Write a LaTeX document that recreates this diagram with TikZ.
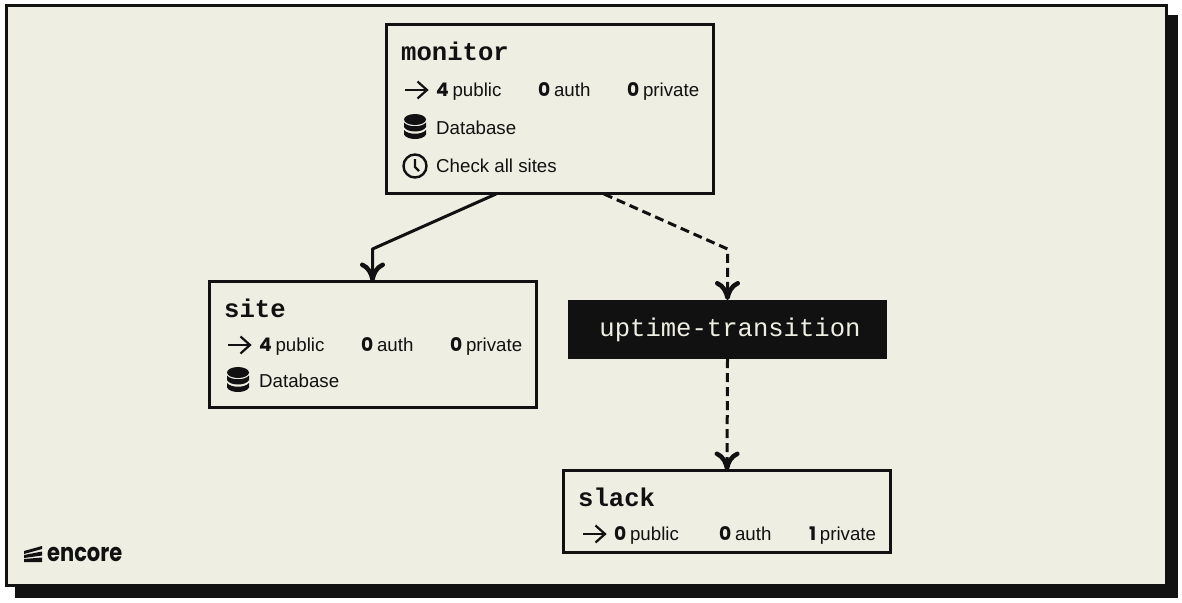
\documentclass[tikz,border=0pt]{standalone}
\usepackage{fontspec}
\usetikzlibrary{arrows.meta}
\setmainfont{Liberation Sans}
\newfontfamily\monofont{Liberation Mono}
\newfontfamily\numfont{Poppins}
\definecolor{paper}{HTML}{EEEEE2}
\definecolor{ink}{HTML}{111111}
\tikzset{
	svcbox/.style={draw=ink,line width=3pt,fill=paper,outer sep=0pt,inner sep=0pt},
	topic/.style={fill=ink,text=paper,outer sep=0pt,inner sep=0pt,font=\monofont\fontsize{25.6}{30}\selectfont},
	title/.style={anchor=base west,inner sep=0pt,text=ink,font=\monofont\bfseries\fontsize{25.6}{30}\selectfont},
	info/.style={anchor=base west,inner sep=0pt,text=ink,font=\fontsize{18.7}{22}\selectfont},
	flow/.style={draw=ink,line width=3pt,-{Computer Modern Rightarrow[length=19pt,width=25pt,line width=4.5pt]}},
	pics/goicon/.style={code={
		\draw[ink,line width=2.2pt] (-11,0) -- (11,0);
		\draw[ink,line width=2.2pt] (1.5,-8.5) -- (11,0) -- (1.5,8.5);
	}},
	pics/dbicon/.style={code={
		\fill[ink] (0,-7.5) ellipse (11 and 5.5);
		\foreach \d in {0,7.5} {
			\fill[ink,yshift=-\d pt] (-11,-4.5) .. controls (-7,0.5) and (7,0.5) .. (11,-4.5) -- (11,0) .. controls (8,6) and (-8,6) .. (-11,0) -- cycle;
		}
	}},
	pics/clockicon/.style={code={
		\draw[ink,line width=2.4pt] (0,0) circle (11.5);
		\draw[ink,line width=2.4pt] (0,-7) -- (0,1) -- (4,5);
	}}
}
\newcommand{\apirow}[8]{
	\pic at (#3-20,#2-6) {goicon};
	\node[info] (#1public) at (#3,#2) {{\numfont\bfseries #4}\kern-1.5pt\ public};
	\node[info] (#1auth) at (#5,#2) {{\numfont\bfseries #6}\kern-1.5pt\ auth};
	\node[info] (#1private) at (#7,#2) {{\numfont\bfseries #8}\kern-1.5pt\ private};
}
\begin{document}
\begin{tikzpicture}[x=1pt,y=-1pt]
\useasboundingbox (0,0) rectangle (1182,602);
\fill[white] (0,0) rectangle (1182,602);
% card and its shadow
\fill[ink] (15,15) rectangle (1178,598);
\fill[paper,draw=ink,line width=3pt] (6,6) rectangle (1166,585);

\node[svcbox,minimum width=327pt,minimum height=169pt] (monitor) at (550,109) {};
\node[svcbox,minimum width=327pt,minimum height=126pt] (site) at (372.5,344.5) {};
\node[svcbox,minimum width=327pt,minimum height=82pt] (slack) at (727,511.5) {};
\node[topic,minimum width=319pt,minimum height=59pt] (uptime) at (727.5,329.5) {\kern5pt\raisebox{-1pt}{uptime-transition}};

\node[title] (monitortitle) at (401,60) {monitor};
\apirow{monitor}{96}{436}{4}{538}{0}{627}{0}
\pic at (415,127) {dbicon};
\node[info] (monitordb) at (436,134) {Database};
\pic at (415,166) {clockicon};
\node[info] (monitorcron) at (436,172) {Check all sites};

\node[title] (sitetitle) at (224,317) {site};
\apirow{site}{351}{259}{4}{361}{0}{450}{0}
\pic at (238,380) {dbicon};
\node[info] (sitedb) at (259,387) {Database};

\node[title] (slacktitle) at (578,506) {slack};
\apirow{slack}{540}{614}{0}{719}{0}{809}{1}

\coordinate (monitorleft) at (496,194);
\coordinate (monitorright) at (604,194);
\coordinate (sitebend) at (372.5,249);
\coordinate (uptimebend) at (727.5,249);
\draw[flow,line join=round] (monitorleft) -- (sitebend) -- (site.north);
\draw[flow,dashed,dash pattern=on 9pt off 5pt] (monitorright) -- (uptimebend) -- (uptime.north);
\draw[flow,dashed,dash pattern=on 9pt off 5pt] (uptime.south) -- (slack.north);

% logo
\fill[ink] (24,551) -- (42,546) -- (42,549) -- (24,554) -- cycle;
\fill[ink] (24,555) -- (42,551.5) -- (42,555.5) -- (24,558) -- cycle;
\fill[ink] (24,559) -- (42,557.5) -- (42,562) -- (24,562) -- cycle;
\node[anchor=base west,inner sep=0pt,text=ink,font=\numfont\bfseries\fontsize{21}{26}\selectfont] (logo) at (47,561.5) {\scalebox{1}[1.2]{encore}};
\end{tikzpicture}
\end{document}
